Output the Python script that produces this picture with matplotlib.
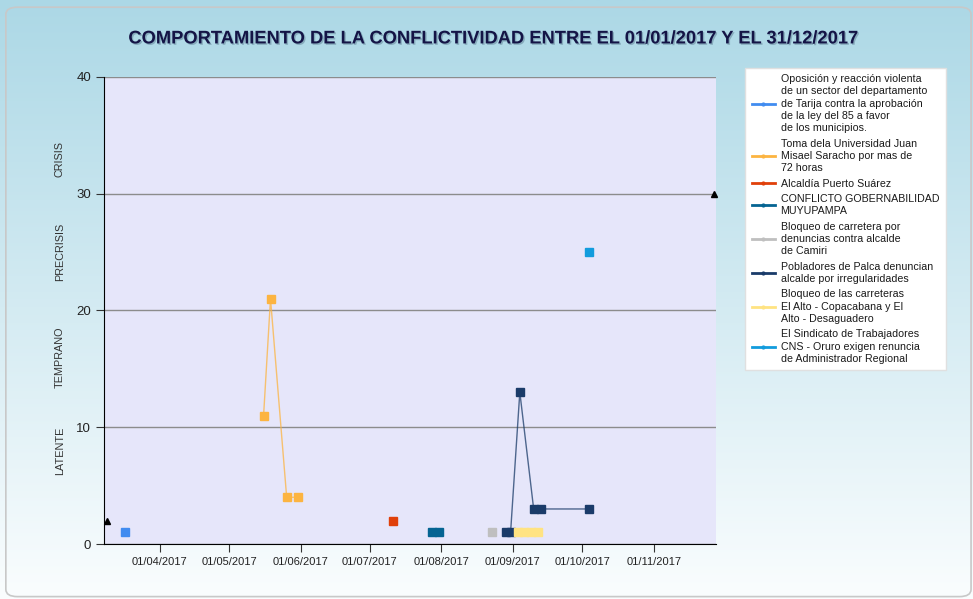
import numpy as np
import pandas as pd
import matplotlib
matplotlib.use("Agg")
import matplotlib.pyplot as plt
import matplotlib.dates as mdates
import matplotlib.patheffects as pe
from matplotlib.patches import FancyBboxPatch

plt.rcParams['font.family'] = ['Liberation Sans', 'DejaVu Sans']

# Datos
titulo = "COMPORTAMIENTO DE LA CONFLICTIVIDAD ENTRE EL 01/01/2017 Y EL 31/12/2017"

conflictos = [
    "Oposición y reacción violenta\nde un sector del departamento\nde Tarija contra la aprobación\nde la ley del 85 a favor\nde los municipios.",
    "Toma dela Universidad Juan\nMisael Saracho por mas de\n72 horas",
    "Alcaldía Puerto Suárez",
    "CONFLICTO GOBERNABILIDAD\nMUYUPAMPA",
    "Bloqueo de carretera por\ndenuncias contra alcalde\nde Camiri",
    "Pobladores de Palca denuncian\nalcalde por irregularidades",
    "Bloqueo de las carreteras\nEl Alto - Copacabana y El\nAlto - Desaguadero",
    "El Sindicato de Trabajadores\nCNS - Oruro exigen renuncia\nde Administrador Regional",
]

fechas_tarija = ["2017-03-17"]
valores_tarija = [1]
fechas_uajms = ["2017-05-16", "2017-05-19", "2017-05-26", "2017-05-31"]
valores_uajms = [11, 21, 4, 4]
fechas_suarez = ["2017-07-11"]
valores_suarez = [2]
fechas_muyupampa = ["2017-07-28", "2017-07-31"]
valores_muyupampa = [1, 1]
fechas_camiri = ["2017-08-23"]
valores_camiri = [1]
fechas_palca = ["2017-08-29", "2017-08-31", "2017-09-04", "2017-09-10", "2017-09-13", "2017-10-04"]
valores_palca = [1, 1, 13, 3, 3, 3]
fechas_elalto = ["2017-09-03", "2017-09-06", "2017-09-09", "2017-09-12"]
valores_elalto = [1, 1, 1, 1]
fechas_cns = ["2017-10-04"]
valores_cns = [25]

series = [
    (fechas_tarija, valores_tarija),
    (fechas_uajms, valores_uajms),
    (fechas_suarez, valores_suarez),
    (fechas_muyupampa, valores_muyupampa),
    (fechas_camiri, valores_camiri),
    (fechas_palca, valores_palca),
    (fechas_elalto, valores_elalto),
    (fechas_cns, valores_cns),
]

colores = ["#418CF0", "#FCB441", "#E0400A", "#056492",
           "#BFBFBF", "#1A3B69", "#FFE382", "#129CDD"]

niveles = ["LATENTE", "TEMPRANO", "PRECRISIS", "CRISIS"]
pos_niveles = [8, 16, 25, 33]

# marcadores de umbral (triángulos en los bordes)
fechas_umbral = ["2017-03-09", "2017-11-27"]
valores_umbral = [2, 30]

# Figura
fig = plt.figure(figsize=(9.73, 5.99), dpi=100)

fondo = fig.add_axes([0, 0, 1, 1], zorder=-10)
grad = np.linspace(0, 1, 256).reshape(-1, 1)
top = np.array([172, 216, 230]) / 255
bot = np.array([250, 253, 254]) / 255
img = top[None, None, :] * (1 - grad[:, :, None]) + bot[None, None, :] * grad[:, :, None]
fondo.imshow(img, aspect='auto', extent=[0, 1, 0, 1])
fondo.set_xlim(0, 1)
fondo.set_ylim(0, 1)
fondo.axis('off')
marco = FancyBboxPatch((0.006, 0.004), 0.992, 0.984,
                       boxstyle="round,pad=0,rounding_size=0.012",
                       transform=fondo.transAxes, fill=False,
                       edgecolor="#C8C8C8", linewidth=1.2)
fondo.add_patch(marco)

ax = fig.add_axes([0.1072, 0.0918, 0.6287, 0.780])
ax.set_facecolor("#E6E6FA")

for (fechas, valores), color, nombre in zip(series, colores, conflictos):
    x = pd.to_datetime(fechas)
    ax.plot(x, valores, color=color, linewidth=1, alpha=0.75, zorder=3)
    ax.plot(x, valores, linestyle='none', marker='s', markersize=6,
            color=color, zorder=4)
    ax.plot([], [], color=color, marker='.', markersize=4, linewidth=2,
            label=nombre)

ax.plot(pd.to_datetime(fechas_umbral), valores_umbral, linestyle='none',
        marker='^', markersize=5, color='black', clip_on=False, zorder=5)

ax.set_xlim(pd.Timestamp("2017-03-08"), pd.Timestamp("2017-11-28"))
ax.set_ylim(0, 40)
ax.set_yticks([0, 10, 20, 30, 40])
ax.xaxis.set_major_locator(mdates.MonthLocator(bymonth=range(4, 12)))
ax.xaxis.set_major_formatter(mdates.DateFormatter("%d/%m/%Y"))

ax.grid(axis='y', color="#8C8C8C", linewidth=1)
ax.set_axisbelow(True)
for lado in ['top', 'right']:
    ax.spines[lado].set_visible(False)
ax.spines['left'].set_color('black')
ax.spines['bottom'].set_color('black')
ax.tick_params(axis='y', length=6, labelsize=9.5, colors='#333333')
ax.tick_params(axis='x', length=6, labelsize=8, colors='#333333')
for t in ax.get_xticklabels() + ax.get_yticklabels():
    t.set_color('#222222')

for nivel, p in zip(niveles, pos_niveles):
    ax.text(-0.073, p, nivel, transform=ax.get_yaxis_transform(),
            rotation=90, ha='center', va='center', fontsize=7.8,
            color='#333333')

fig.text(0.508, 0.935, titulo, ha='center', va='center', fontsize=13.2,
         fontweight='bold', color="#141446",
         path_effects=[pe.withSimplePatchShadow(offset=(1, -1),
                                                shadow_rgbFace='#6A8CA0',
                                                alpha=0.6)])

leg = fig.legend(loc='upper left', bbox_to_anchor=(0.766, 0.887),
                 borderaxespad=0, fontsize=7.7, frameon=True, fancybox=False,
                 handlelength=2.2, handletextpad=0.5, labelspacing=0.5,
                 borderpad=0.6)
leg.get_frame().set_facecolor('white')
leg.get_frame().set_edgecolor('#E0E0E0')
leg.get_frame().set_alpha(1)
for t in leg.get_texts():
    t.set_color('#1A1A1A')
    t.set_linespacing(1.29)

fig.savefig("out.png", dpi=100)
